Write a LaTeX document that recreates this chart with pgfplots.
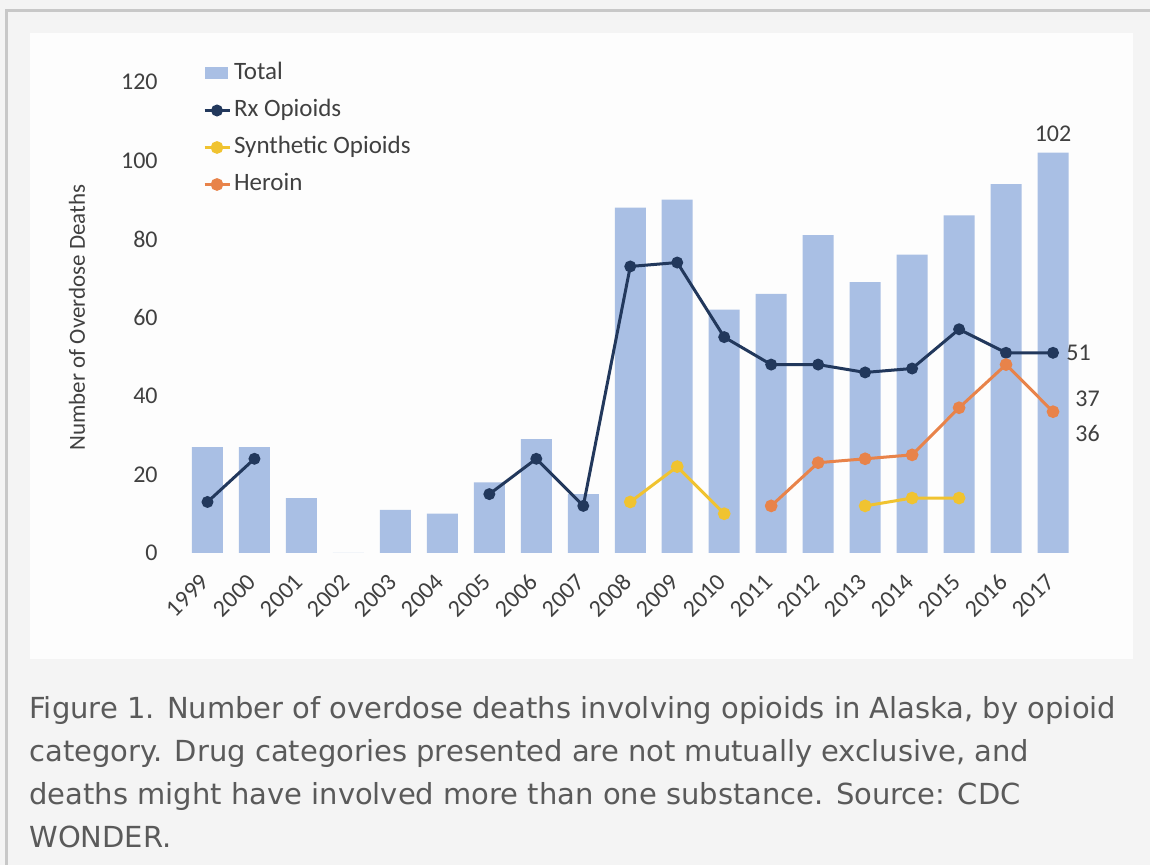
\documentclass[border=0pt]{standalone}
\usepackage{fontspec}
\setmainfont{Carlito}
\newfontfamily\capfont{DejaVu Sans}
\usepackage{pgfplots}
\usepackage{pgfplotstable}
\pgfplotsset{compat=1.18}

\definecolor{pagebg}{HTML}{F4F4F4}
\definecolor{frameline}{HTML}{C8C8C8}
\definecolor{panel}{HTML}{FDFDFD}
\definecolor{totalbar}{HTML}{A9BFE4}
\definecolor{rxcol}{HTML}{22385C}
\definecolor{syncol}{HTML}{F0C330}
\definecolor{hercol}{HTML}{E8834A}
\definecolor{txt}{HTML}{404040}
\definecolor{captxt}{HTML}{5A5A5A}

% Overdose deaths in Alaska, 1999 (x=0) to 2017 (x=18)
\pgfplotstableread{
x  total rx  syn her
0  27    13  nan nan
1  27    24  nan nan
2  14    nan nan nan
3  0     nan nan nan
4  11    nan nan nan
5  10    nan nan nan
6  18    15  nan nan
7  29    24  nan nan
8  15    12  nan nan
9  88    73  13  nan
10 90    74  22  nan
11 62    55  10  nan
12 66    48  nan 12
13 81    48  nan 23
14 69    46  12  24
15 76    47  14  25
16 86    57  14  37
17 94    51  nan 48
18 102   51  nan 36
}\deaths

\pgfplotsset{
  linelegend/.style={legend image code/.code={\draw[mark repeat=2, mark phase=2, ##1]
    plot coordinates {(0pt,0pt) (6.25pt,0pt) (12.5pt,0pt)};}},
  barlegend/.style={legend image code/.code={\fill[totalbar] (0pt,-3pt) rectangle (11.5pt,3pt);}},
}

\begin{document}
\begin{tikzpicture}[x=1pt,y=1pt]
% page, frame and white chart panel
\fill[pagebg] (0,0) rectangle (575,432.5);
\draw[frameline, line width=1.5pt] (3.25,0) -- (3.25,427.25) -- (575,427.25);
\fill[panel] (15,103) rectangle (566.5,416);

\begin{axis}[
  at={(92pt,156pt)}, anchor=south west,
  scale only axis, width=446.25pt, height=235.5pt,
  xmin=-0.5, xmax=18.5, ymin=0, ymax=120,
  clip=false,
  axis line style={draw=none}, tick style={draw=none},
  unbounded coords=jump,
  ytick={0,20,...,120},
  xtick={0,...,18},
  xticklabels={1999,2000,2001,2002,2003,2004,2005,2006,2007,2008,2009,2010,2011,2012,2013,2014,2015,2016,2017},
  /pgf/number format/assume math mode=true,
  tick label style={font=\fontsize{12}{14}\selectfont, text=txt},
  xticklabel style={xshift=-1.2pt, yshift=-12.5pt, rotate=45, anchor=east, inner sep=0pt},
  yticklabel style={xshift=-13pt, anchor=east, inner sep=0pt},
  ylabel={Number of Overdose Deaths},
  ylabel style={at={(axis description cs:-0.1199,0.5)}, anchor=center, rotate=0,
    font=\fontsize{11.5}{13}\selectfont, text=txt},
  legend cell align=left,
  legend style={at={(axis description cs:0,1)}, anchor=north west,
    xshift=9.5pt, yshift=10pt, draw=none, fill=none, inner sep=0pt, outer sep=0pt,
    row sep=7pt, font=\fontsize{12.5}{14}\selectfont, text=txt,
    nodes={inner sep=0pt, text height=9pt, text depth=2.5pt},
    /tikz/every odd column/.append style={column sep=1.5pt}},
]
\addplot[ybar, bar width=15.5pt, fill=totalbar, draw=none, barlegend]
  table[x=x, y=total] {\deaths};
\addlegendentry{Total}
\addplot[rxcol, line width=1.5pt, mark=*, mark size=2.2pt, mark options={solid}, linelegend]
  table[x=x, y=rx] {\deaths};
\addlegendentry{Rx Opioids}
\addplot[syncol, line width=1.5pt, mark=*, mark size=2.4pt, mark options={solid}, linelegend]
  table[x=x, y=syn] {\deaths};
\addlegendentry{Synthetic Opioids}
\addplot[hercol, line width=1.5pt, mark=*, mark size=2.4pt, mark options={solid}, linelegend]
  table[x=x, y=her] {\deaths};
\addlegendentry{Heroin}

% end-of-series value labels for 2017
\begin{scope}[every node/.style={inner sep=0pt, text=txt, font=\fontsize{12}{14}\selectfont}]
\node[anchor=center, yshift=9.3pt] at (axis cs:18,102) {102};
\node[anchor=west, xshift=6.5pt] at (axis cs:18,51) {51};
\node[anchor=west, xshift=11pt, yshift=4.4pt] at (axis cs:18,37) {37};
\node[anchor=west, xshift=11pt, yshift=-10.7pt] at (axis cs:18,36) {36};
\end{scope}
\end{axis}

% caption
\begin{scope}[every node/.style={anchor=base west, inner sep=0pt, text=captxt,
    font=\capfont\fontsize{14.5}{17}\selectfont}]
\node at (14.5,73) {Figure 1. Number of overdose deaths involving opioids in Alaska, by opioid};
\node at (14.5,51.5) {category. Drug categories presented are not mutually exclusive, and};
\node at (14.5,30) {deaths might have involved more than one substance. Source: CDC};
\node at (14.5,8.5) {WONDER.};
\end{scope}

\pgfresetboundingbox
\useasboundingbox (0,0) rectangle (575,432.5);
\end{tikzpicture}
\end{document}
